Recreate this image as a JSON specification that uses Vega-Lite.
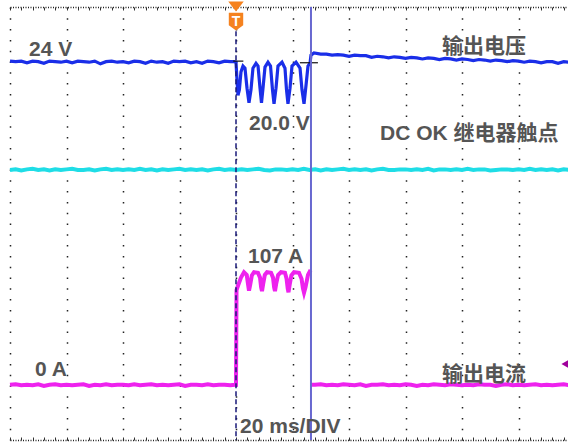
{
  "$schema": "https://vega.github.io/schema/vega-lite/v6.json",
  "width": 558,
  "height": 433,
  "autosize": {"type": "none"},
  "padding": {"left": 10, "top": 7, "right": 0, "bottom": 3},
  "background": "white",
  "config": {"view": {"stroke": null}},
  "datasets": {
    "cyan": [
      {"t":0,"v":4.99},{"t":0.1,"v":5.00},{"t":0.2,"v":4.98},{"t":0.3,"v":5.00},{"t":0.4,"v":5.01},{"t":0.5,"v":4.99},{"t":0.6,"v":5.00},{"t":0.7,"v":4.98},{"t":0.8,"v":5.00},{"t":0.9,"v":4.99},
      {"t":1.0,"v":5.00},{"t":1.1,"v":5.01},{"t":1.2,"v":4.99},{"t":1.3,"v":4.99},{"t":1.4,"v":5.00},{"t":1.5,"v":4.98},{"t":1.6,"v":5.00},{"t":1.7,"v":5.01},{"t":1.8,"v":4.99},{"t":1.9,"v":5.00},
      {"t":2.0,"v":4.99},{"t":2.1,"v":5.00},{"t":2.2,"v":4.99},{"t":2.3,"v":5.01},{"t":2.4,"v":4.99},{"t":2.5,"v":5.00},{"t":2.6,"v":4.98},{"t":2.7,"v":5.00},{"t":2.8,"v":4.99},{"t":2.9,"v":5.00},
      {"t":3.0,"v":5.01},{"t":3.1,"v":4.99},{"t":3.2,"v":5.00},{"t":3.3,"v":4.99},{"t":3.4,"v":5.00},{"t":3.5,"v":4.98},{"t":3.6,"v":5.00},{"t":3.7,"v":5.01},{"t":3.8,"v":4.99},{"t":3.9,"v":5.00},
      {"t":4.0,"v":4.99},{"t":4.1,"v":5.00},{"t":4.2,"v":4.99},{"t":4.3,"v":5.00},{"t":4.4,"v":5.01},{"t":4.5,"v":4.99},{"t":4.6,"v":4.98},{"t":4.7,"v":5.00},{"t":4.8,"v":5.00},{"t":4.9,"v":4.99},
      {"t":5.0,"v":5.00},{"t":5.1,"v":4.99},{"t":5.2,"v":5.01},{"t":5.3,"v":4.99},{"t":5.4,"v":5.00},{"t":5.5,"v":4.98},{"t":5.6,"v":5.00},{"t":5.7,"v":4.99},{"t":5.8,"v":5.00},{"t":5.9,"v":5.01},
      {"t":6.0,"v":4.99},{"t":6.1,"v":5.00},{"t":6.2,"v":4.99},{"t":6.3,"v":5.00},{"t":6.4,"v":4.98},{"t":6.5,"v":5.00},{"t":6.6,"v":5.01},{"t":6.7,"v":4.99},{"t":6.8,"v":4.99},{"t":6.9,"v":5.00},
      {"t":7.0,"v":5.00},{"t":7.1,"v":4.99},{"t":7.2,"v":5.00},{"t":7.3,"v":4.99},{"t":7.4,"v":5.01},{"t":7.5,"v":4.98},{"t":7.6,"v":5.00},{"t":7.7,"v":5.00},{"t":7.8,"v":4.99},{"t":7.9,"v":5.00},
      {"t":8.0,"v":4.99},{"t":8.1,"v":5.01},{"t":8.2,"v":4.99},{"t":8.3,"v":5.00},{"t":8.4,"v":5.00},{"t":8.5,"v":4.98},{"t":8.6,"v":4.99},{"t":8.7,"v":5.00},{"t":8.8,"v":5.00},{"t":8.9,"v":4.99},
      {"t":9.0,"v":5.00},{"t":9.1,"v":4.99},{"t":9.2,"v":5.01},{"t":9.3,"v":4.99},{"t":9.4,"v":5.00},{"t":9.5,"v":4.99},{"t":9.6,"v":5.00},{"t":9.7,"v":4.98},{"t":9.8,"v":5.00},{"t":9.9,"v":4.99}
    ],
    "blue": [
      {"t":0,"v":7.00},{"t":0.1,"v":6.99},{"t":0.2,"v":7.00},{"t":0.3,"v":6.97},{"t":0.4,"v":7.00},{"t":0.5,"v":6.99},{"t":0.6,"v":6.96},{"t":0.7,"v":7.00},{"t":0.8,"v":6.99},{"t":0.9,"v":6.98},
      {"t":1.0,"v":7.00},{"t":1.1,"v":6.97},{"t":1.2,"v":7.00},{"t":1.3,"v":6.99},{"t":1.4,"v":6.98},{"t":1.5,"v":7.00},{"t":1.6,"v":6.95},{"t":1.7,"v":6.99},{"t":1.8,"v":7.00},{"t":1.9,"v":6.98},
      {"t":2.0,"v":6.99},{"t":2.1,"v":6.97},{"t":2.2,"v":7.00},{"t":2.3,"v":6.99},{"t":2.4,"v":6.96},{"t":2.5,"v":7.00},{"t":2.6,"v":6.98},{"t":2.7,"v":6.99},{"t":2.8,"v":6.96},{"t":2.9,"v":7.00},
      {"t":3.0,"v":6.99},{"t":3.1,"v":7.00},{"t":3.2,"v":6.97},{"t":3.3,"v":6.99},{"t":3.4,"v":6.96},{"t":3.5,"v":7.00},{"t":3.6,"v":6.99},{"t":3.7,"v":6.97},{"t":3.8,"v":7.00},{"t":3.9,"v":6.99},
      {"t":3.965,"v":6.99},{"t":4.0,"v":6.98},{"t":4.018,"v":6.65},{"t":4.035,"v":6.37},{"t":4.06,"v":6.47},{"t":4.088,"v":6.80},{"t":4.124,"v":6.91},{"t":4.159,"v":6.87},
      {"t":4.195,"v":6.50},{"t":4.23,"v":6.23},{"t":4.265,"v":6.47},{"t":4.30,"v":6.87},{"t":4.354,"v":6.96},{"t":4.39,"v":6.91},{"t":4.425,"v":6.50},{"t":4.451,"v":6.23},
      {"t":4.478,"v":6.50},{"t":4.513,"v":6.89},{"t":4.566,"v":6.98},{"t":4.611,"v":6.91},{"t":4.646,"v":6.47},{"t":4.673,"v":6.21},{"t":4.708,"v":6.50},{"t":4.743,"v":6.91},
      {"t":4.814,"v":6.98},{"t":4.867,"v":6.87},{"t":4.894,"v":6.47},{"t":4.92,"v":6.21},{"t":4.956,"v":6.50},{"t":4.991,"v":6.91},{"t":5.062,"v":6.98},{"t":5.133,"v":6.87},
      {"t":5.168,"v":6.47},{"t":5.204,"v":6.21},{"t":5.24,"v":6.56},{"t":5.274,"v":6.91},{"t":5.31,"v":6.96},{"t":5.327,"v":7.11},{"t":5.38,"v":7.15},
      {"t":5.5,"v":7.13},{"t":5.6,"v":7.13},{"t":5.7,"v":7.11},{"t":5.8,"v":7.12},{"t":5.9,"v":7.11},{"t":6.0,"v":7.09},{"t":6.1,"v":7.11},{"t":6.2,"v":7.10},{"t":6.3,"v":7.10},{"t":6.4,"v":7.07},
      {"t":6.5,"v":7.09},{"t":6.6,"v":7.08},{"t":6.7,"v":7.06},{"t":6.8,"v":7.08},{"t":6.9,"v":7.07},{"t":7.0,"v":7.05},{"t":7.1,"v":7.07},{"t":7.2,"v":7.06},{"t":7.3,"v":7.04},{"t":7.4,"v":7.06},
      {"t":7.5,"v":7.05},{"t":7.6,"v":7.03},{"t":7.7,"v":7.05},{"t":7.8,"v":7.04},{"t":7.9,"v":7.02},{"t":8.0,"v":7.04},{"t":8.1,"v":7.03},{"t":8.2,"v":7.01},{"t":8.3,"v":7.03},{"t":8.4,"v":7.02},
      {"t":8.5,"v":7.00},{"t":8.6,"v":7.02},{"t":8.7,"v":7.01},{"t":8.8,"v":6.99},{"t":8.9,"v":7.01},{"t":9.0,"v":7.00},{"t":9.1,"v":6.98},{"t":9.2,"v":7.00},{"t":9.3,"v":6.99},{"t":9.4,"v":6.97},
      {"t":9.5,"v":6.99},{"t":9.6,"v":6.99},{"t":9.7,"v":6.96},{"t":9.8,"v":6.99},{"t":9.9,"v":6.98}
    ],
    "mag": [
      {"s":0,"t":0,"v":1.02},{"s":0,"t":0.1,"v":1.03},{"s":0,"t":0.2,"v":1.01},{"s":0,"t":0.3,"v":1.02},{"s":0,"t":0.4,"v":1.01},{"s":0,"t":0.5,"v":1.03},{"s":0,"t":0.6,"v":1.00},{"s":0,"t":0.7,"v":1.02},{"s":0,"t":0.8,"v":1.03},{"s":0,"t":0.9,"v":1.01},
      {"s":0,"t":1.0,"v":1.02},{"s":0,"t":1.1,"v":1.01},{"s":0,"t":1.2,"v":1.02},{"s":0,"t":1.3,"v":1.03},{"s":0,"t":1.4,"v":1.00},{"s":0,"t":1.5,"v":1.02},{"s":0,"t":1.6,"v":1.01},{"s":0,"t":1.7,"v":1.03},{"s":0,"t":1.8,"v":1.01},{"s":0,"t":1.9,"v":1.02},
      {"s":0,"t":2.0,"v":1.02},{"s":0,"t":2.1,"v":1.01},{"s":0,"t":2.2,"v":1.03},{"s":0,"t":2.3,"v":1.01},{"s":0,"t":2.4,"v":1.02},{"s":0,"t":2.5,"v":1.03},{"s":0,"t":2.6,"v":1.01},{"s":0,"t":2.7,"v":1.02},{"s":0,"t":2.8,"v":1.01},{"s":0,"t":2.9,"v":1.02},
      {"s":0,"t":3.0,"v":1.03},{"s":0,"t":3.1,"v":1.00},{"s":0,"t":3.2,"v":1.02},{"s":0,"t":3.3,"v":1.02},{"s":0,"t":3.4,"v":1.01},{"s":0,"t":3.5,"v":1.03},{"s":0,"t":3.6,"v":1.01},{"s":0,"t":3.7,"v":1.02},{"s":0,"t":3.8,"v":1.02},{"s":0,"t":3.9,"v":1.01},
      {"s":0,"t":3.982,"v":1.02},{"s":0,"t":4.0,"v":1.02},{"s":0,"t":4.009,"v":2.77},{"s":0,"t":4.035,"v":2.85},{"s":0,"t":4.088,"v":3.00},{"s":0,"t":4.142,"v":3.10},{"s":0,"t":4.19,"v":3.05},{"s":0,"t":4.213,"v":2.88},{"s":0,"t":4.23,"v":2.76},
      {"s":0,"t":4.25,"v":2.86},{"s":0,"t":4.28,"v":3.04},{"s":0,"t":4.319,"v":3.10},{"s":0,"t":4.389,"v":3.09},{"s":0,"t":4.425,"v":3.00},{"s":0,"t":4.445,"v":2.82},{"s":0,"t":4.46,"v":2.75},{"s":0,"t":4.48,"v":2.88},{"s":0,"t":4.51,"v":3.05},{"s":0,"t":4.549,"v":3.10},{"s":0,"t":4.62,"v":3.09},
      {"s":0,"t":4.655,"v":3.00},{"s":0,"t":4.675,"v":2.82},{"s":0,"t":4.69,"v":2.75},{"s":0,"t":4.71,"v":2.88},{"s":0,"t":4.745,"v":3.05},{"s":0,"t":4.796,"v":3.10},{"s":0,"t":4.867,"v":3.09},{"s":0,"t":4.895,"v":2.98},{"s":0,"t":4.915,"v":2.80},{"s":0,"t":4.929,"v":2.73},{"s":0,"t":4.95,"v":2.87},{"s":0,"t":4.98,"v":3.04},
      {"s":0,"t":5.027,"v":3.10},{"s":0,"t":5.115,"v":3.09},{"s":0,"t":5.16,"v":2.98},{"s":0,"t":5.185,"v":2.80},{"s":0,"t":5.204,"v":2.72},{"s":0,"t":5.23,"v":2.82},{"s":0,"t":5.274,"v":3.05},{"s":0,"t":5.32,"v":3.14},
      {"s":1,"t":5.335,"v":1.02},{"s":1,"t":5.4,"v":1.02},{"s":1,"t":5.5,"v":1.03},{"s":1,"t":5.6,"v":1.01},{"s":1,"t":5.7,"v":1.02},{"s":1,"t":5.8,"v":1.01},{"s":1,"t":5.9,"v":1.03},{"s":1,"t":6.0,"v":1.02},{"s":1,"t":6.1,"v":1.01},{"s":1,"t":6.2,"v":1.03},{"s":1,"t":6.3,"v":1.00},
      {"s":1,"t":6.4,"v":1.02},{"s":1,"t":6.5,"v":1.02},{"s":1,"t":6.6,"v":1.03},{"s":1,"t":6.7,"v":1.01},{"s":1,"t":6.8,"v":1.02},{"s":1,"t":6.9,"v":1.01},{"s":1,"t":7.0,"v":1.03},{"s":1,"t":7.1,"v":1.02},{"s":1,"t":7.2,"v":1.00},{"s":1,"t":7.3,"v":1.02},
      {"s":1,"t":7.4,"v":1.01},{"s":1,"t":7.5,"v":1.03},{"s":1,"t":7.6,"v":1.02},{"s":1,"t":7.7,"v":1.01},{"s":1,"t":7.8,"v":1.03},{"s":1,"t":7.9,"v":1.02},{"s":1,"t":8.0,"v":1.01},{"s":1,"t":8.1,"v":1.02},{"s":1,"t":8.2,"v":1.01},{"s":1,"t":8.3,"v":1.03},
      {"s":1,"t":8.4,"v":1.02},{"s":1,"t":8.5,"v":1.02},{"s":1,"t":8.6,"v":1.00},{"s":1,"t":8.7,"v":1.02},{"s":1,"t":8.8,"v":1.03},{"s":1,"t":8.9,"v":1.01},{"s":1,"t":9.0,"v":1.02},{"s":1,"t":9.1,"v":1.01},{"s":1,"t":9.2,"v":1.02},{"s":1,"t":9.3,"v":1.03},
      {"s":1,"t":9.4,"v":1.01},{"s":1,"t":9.5,"v":1.02},{"s":1,"t":9.6,"v":1.01},{"s":1,"t":9.7,"v":1.02},{"s":1,"t":9.8,"v":1.03},{"s":1,"t":9.9,"v":1.01}
    ],
    "levels": [
      {"t":3.95,"t2":4.13,"v":7.0},
      {"t":5.13,"t2":5.45,"v":6.97}
    ],
    "trigger": [{"t":4.0,"v":7.55,"v2":0}],
    "cursor": [{"t":5.327,"v":8,"v2":0}],
    "tmark": [{"t":4.0,"v":7.834,"label":"T","lv":7.73}],
    "chmark": [{"t":9.84,"v":1.404}],
    "labels": [
      {"t":0.336,"v":7.095,"label":"24 V"},
      {"t":4.23,"v":5.727,"label":"20.0 V"},
      {"t":6.549,"v":5.543,"label":"DC OK 继电器触点"},
      {"t":7.646,"v":7.141,"label":"输出电压"},
      {"t":4.212,"v":3.27,"label":"107 A"},
      {"t":0.442,"v":1.182,"label":"0 A"},
      {"t":7.646,"v":1.081,"label":"输出电流"},
      {"t":4.071,"v":0.129,"label":"20 ms/DIV"}
    ]
  },
  "encoding": {
    "x": {"field": "t", "type": "quantitative", "axis": null, "scale": {"domain": [0, 9.876], "nice": false, "zero": false}},
    "y": {"field": "v", "type": "quantitative", "axis": null, "scale": {"domain": [0, 8], "nice": false, "zero": false}}
  },
  "layer": [
    {
      "data": {"name": "cyan"},
      "mark": {"type": "line", "color": "#1fdde6", "strokeWidth": 4},
      "encoding": {
        "x": {"field": "t", "type": "quantitative", "scale": {"domain": [0, 9.876], "nice": false, "zero": false},
          "axis": {"orient": "bottom", "title": null, "labels": false,
            "values": [0,0.2,0.4,0.6,0.8,1,1.2,1.4,1.6,1.8,2,2.2,2.4,2.6,2.8,3,3.2,3.4,3.6,3.8,4,4.2,4.4,4.6,4.8,5,5.2,5.4,5.6,5.8,6,6.2,6.4,6.6,6.8,7,7.2,7.4,7.6,7.8,8,8.2,8.4,8.6,8.8,9,9.2,9.4,9.6,9.8],
            "ticks": true, "tickSize": -3, "tickColor": "#333", "tickWidth": 1,
            "domain": true, "domainColor": "#222", "domainWidth": 1.5, "domainDash": [1, 1.5],
            "grid": true, "gridColor": "#222", "gridWidth": 1.5, "gridDash": [1.5, 9.3],
            "gridOpacity": {"condition": {"test": "abs(datum.value - round(datum.value)) < 0.01", "value": 1}, "value": 0}}},
        "y": {"field": "v", "type": "quantitative", "scale": {"domain": [0, 8], "nice": false, "zero": false},
          "axis": {"orient": "left", "title": null, "labels": false,
            "values": [0,0.2,0.4,0.6,0.8,1,1.2,1.4,1.6,1.8,2,2.2,2.4,2.6,2.8,3,3.2,3.4,3.6,3.8,4,4.2,4.4,4.6,4.8,5,5.2,5.4,5.6,5.8,6,6.2,6.4,6.6,6.8,7,7.2,7.4,7.6,7.8,8],
            "ticks": true, "tickSize": -3, "tickColor": "#333", "tickWidth": 1,
            "domain": true, "domainColor": "#222", "domainWidth": 1.5, "domainDash": [1, 1.5],
            "grid": true, "gridColor": "#222", "gridWidth": 1.5, "gridDash": [1.5, 9.8],
            "gridOpacity": {"condition": {"test": "abs(datum.value - round(datum.value)) < 0.01", "value": 1}, "value": 0}}}
      }
    },
    {
      "data": {"name": "blue"},
      "mark": {"type": "line", "color": "#1a2ee8", "strokeWidth": 3.2},
      "encoding": {
        "x": {"field": "t", "type": "quantitative", "scale": {"domain": [0, 9.876], "nice": false, "zero": false},
          "axis": {"orient": "top", "title": null, "labels": false,
            "values": [0,0.2,0.4,0.6,0.8,1,1.2,1.4,1.6,1.8,2,2.2,2.4,2.6,2.8,3,3.2,3.4,3.6,3.8,4,4.2,4.4,4.6,4.8,5,5.2,5.4,5.6,5.8,6,6.2,6.4,6.6,6.8,7,7.2,7.4,7.6,7.8,8,8.2,8.4,8.6,8.8,9,9.2,9.4,9.6,9.8],
            "ticks": true, "tickSize": -3, "tickColor": "#333", "tickWidth": 1,
            "domain": true, "domainColor": "#222", "domainWidth": 1.5, "domainDash": [1, 1.5],
            "grid": false}}
      }
    },
    {
      "data": {"name": "mag"},
      "mark": {"type": "line", "color": "#ee22ee", "strokeWidth": 4},
      "encoding": {"detail": {"field": "s", "type": "nominal"}}
    },
    {
      "data": {"name": "levels"},
      "mark": {"type": "rule", "color": "#111", "strokeWidth": 1.2},
      "encoding": {"x2": {"field": "t2"}}
    },
    {
      "data": {"name": "trigger"},
      "mark": {"type": "rule", "color": "#1a1a7a", "strokeWidth": 1.5, "strokeDash": [5, 3]},
      "encoding": {"y2": {"field": "v2"}}
    },
    {
      "data": {"name": "cursor"},
      "mark": {"type": "rule", "color": "#6868d0", "strokeWidth": 2},
      "encoding": {"y2": {"field": "v2"}}
    },
    {
      "data": {"name": "tmark"},
      "mark": {"type": "point", "filled": true, "color": "#f5821f", "opacity": 1, "size": 240,
        "shape": "M-1,-1.86L1,-1.86L0,-0.57Z M-0.93,-0.43L0.93,-0.43L0.93,1.2L0,1.86L-0.93,1.2Z"}
    },
    {
      "data": {"name": "tmark"},
      "mark": {"type": "text", "color": "white", "font": "Liberation Sans", "fontWeight": "bold", "fontSize": 14, "align": "center", "baseline": "middle"},
      "encoding": {"y": {"field": "lv", "type": "quantitative", "axis": null, "scale": {"domain": [0, 8], "nice": false, "zero": false}}, "text": {"field": "label"}}
    },
    {
      "data": {"name": "chmark"},
      "mark": {"type": "point", "filled": true, "color": "#a0009c", "opacity": 1, "size": 110, "shape": "triangle-left"}
    },
    {
      "data": {"name": "labels"},
      "mark": {"type": "text", "color": "#555555", "font": "Liberation Sans, 'Noto Sans CJK SC', sans-serif", "fontWeight": "bold", "fontSize": 21, "align": "left", "baseline": "alphabetic"},
      "encoding": {"text": {"field": "label"}}
    }
  ]
}
